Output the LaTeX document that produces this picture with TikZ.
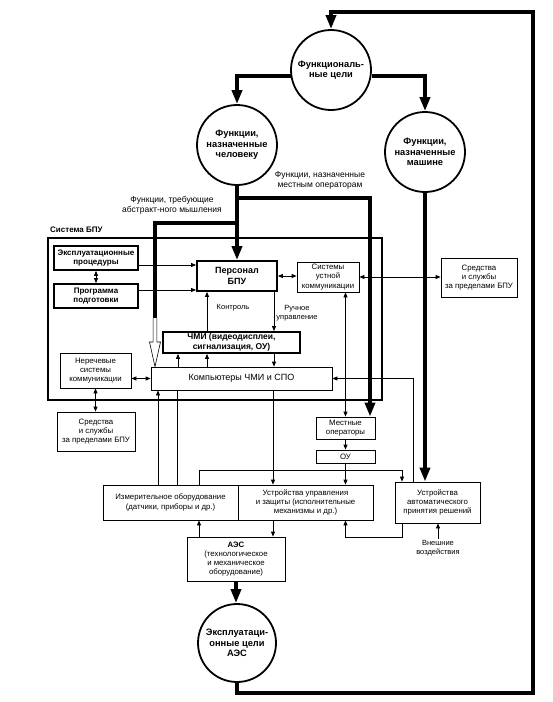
\documentclass[tikz,border=0pt]{standalone}
\usepackage{fontspec}
\setmainfont{Liberation Sans}
\usetikzlibrary{arrows.meta, calc}

\begin{document}
\begin{tikzpicture}[x=1pt, y=-1pt,
  goal/.style={circle, draw, line width=1.8pt, minimum size=80pt, inner sep=0pt,
    align=center, font=\fontsize{9.3}{10.5}\selectfont\bfseries},
  plainbox/.style={draw, line width=0.8pt, inner sep=0pt, align=center,
    font=\fontsize{7.8}{9.2}\selectfont},
  boldbox/.style={draw, line width=1.8pt, inner sep=0pt, align=center,
    font=\fontsize{8}{9.5}\selectfont\bfseries},
  note/.style={align=center, inner sep=1pt, font=\fontsize{7.5}{9}\selectfont},
  flowline/.style={line width=3.8pt},
  flow/.style={flowline, -{Triangle[length=14pt, width=10pt]}},
  sigline/.style={line width=0.8pt},
  sig/.style={sigline, -{Triangle[length=5pt, width=4pt]}},
  sigboth/.style={sigline, {Triangle[length=5pt, width=4pt]}-{Triangle[length=5pt, width=4pt]}}]

  % Page 552 by 702, y runs downwards.
  \useasboundingbox (0,0) rectangle (552,702);

  % Goals and the allocation of functions.
  \node[goal] (goals) at (331,70) {Функциональ-\\ные цели};
  \node[goal] (human) at (237,145) {Функции,\\назначенные\\человеку};
  \node[goal] (machine) at (425,152) {Функции,\\назначенные\\машине};
  \node[goal, minimum size=78pt] (opgoals) at (237,643) {Эксплуатаци-\\онные цели\\АЭС};

  \node[note, font=\fontsize{8.5}{10}\selectfont] (locallabel) at (320,180) {Функции, назначенные\\местным операторам};
  \node[note, font=\fontsize{8.5}{10}\selectfont] (abstrlabel) at (172,205) {Функции, требующие\\абстракт-ного мышления};

  % The control room frame.
  \node[draw, line width=2pt, minimum width=334pt, minimum height=162pt, inner sep=0pt] (bpu) at (215,319) {};
  \node[anchor=south west, inner sep=1pt, font=\fontsize{8}{9.5}\selectfont\bfseries] (bpulabel)
    at ([xshift=2pt, yshift=3pt]bpu.north west) {Система БПУ};

  \node[boldbox, minimum width=80pt, minimum height=30pt, font=\fontsize{9}{10.5}\selectfont\bfseries] (staff) at (237,276) {Персонал\\БПУ};
  \node[plainbox, minimum width=62pt, minimum height=30pt] (speech) at (328,277) {Системы\\устной\\коммуникации};
  \node[plainbox, minimum width=76pt, minimum height=39pt] (outr) at (479,277.5) {Средства\\и службы\\за пределами БПУ};
  \node[boldbox, minimum width=84pt, minimum height=24pt] (proc) at (96,258) {Эксплуатационные\\процедуры};
  \node[boldbox, minimum width=84pt, minimum height=24pt] (train) at (96,296) {Программа\\подготовки};
  \node[boldbox, minimum width=137pt, minimum height=21pt, font=\fontsize{8.5}{10}\selectfont\bfseries] (hmi) at (231.5,342.5) {ЧМИ (видеодисплеи,\\сигнализация, ОУ)};
  \node[plainbox, minimum width=181pt, minimum height=23pt, font=\fontsize{9}{11}\selectfont] (comp) at (241.5,378.5) {Компьютеры ЧМИ и СПО};
  \node[plainbox, minimum width=71pt, minimum height=35pt] (nonverbal) at (95.5,370.5) {Неречевые\\системы\\коммуникации};
  \node[plainbox, minimum width=78pt, minimum height=39pt] (outl) at (96,431.5) {Средства\\и службы\\за пределами БПУ};

  \node[note] (ctllabel) at (233,308) {Контроль};
  \node[note] (manlabel) at (297,313) {Ручное\\управление};

  % Plant side.
  \node[plainbox, minimum width=59pt, minimum height=22pt] (local) at (345.5,428) {Местные\\операторы};
  \node[plainbox, minimum width=59pt, minimum height=13pt] (ou) at (345.5,456.5) {ОУ};
  \node[plainbox, minimum width=135pt, minimum height=35pt] (meas) at (170.5,502.5) {Измерительное оборудование\\(датчики, приборы и др.)};
  \node[plainbox, minimum width=135pt, minimum height=35pt] (ctrl) at (305.5,502.5) {Устройства управления\\и защиты (исполнительные\\механизмы и др.)};
  \node[plainbox, minimum width=85pt, minimum height=41pt] (auto) at (437.5,502.5) {Устройства\\автоматического\\принятия решений};
  \node[plainbox, minimum width=98pt, minimum height=44pt] (npp) at (236,559) {\textbf{АЭС}\\(технологическое\\и механическое\\оборудование)};
  \node[note] (extlabel) at (438,548) {Внешние\\воздействия};

  % Thick flows of function.
  \coordinate (looptr) at (533,12);
  \coordinate (loopbl) at (237,693);
  \draw[flow] (opgoals.south) |- (looptr |- loopbl) -- (looptr) -| (goals.north);
  \draw[flow] (goals.188) -| (human.north);
  \draw[flow] (goals.-8) -| (machine.north);
  \draw[flow] (human.south) -- (staff.north);
  \coordinate (localbend) at (370,198);
  \draw[flow] (human.south |- localbend) -- (localbend) -- (localbend |- local.north);
  \coordinate (abstrbend) at (155,223);
  \coordinate (abstrend) at (155,318);
  \draw[flowline] (human.south |- abstrbend) -- (abstrbend) -- (abstrend);
  \draw[line width=0.6pt] ($(abstrend)+(-1.9,0)$) -- ++(0,24) -- ++(-3.6,0) -- (abstrend |- comp.north)
    -- ($(abstrend)+(5.5,24)$) -- ++(-3.6,0) -- ++(0,-24);
  \draw[flow] (machine.south) -- (machine.south |- auto.north);
  \draw[flow] (npp.south) -- (npp.south |- opgoals.north);

  % Inside the control room.
  \coordinate (procout) at ([yshift=-7pt]proc.east);
  \coordinate (trainout) at ([yshift=6pt]train.east);
  \draw[sig] (procout) -- (procout -| staff.west);
  \draw[sig] (trainout) -- (trainout -| staff.west);
  \draw[sigboth] (proc.south) -- (train.north);
  \draw[sigboth] (staff.east) -- (staff.east -| speech.west);
  \draw[sigboth] (speech.east) -- (speech.east -| outr.west);
  \coordinate (ctlx) at ([xshift=-30pt]staff.south);
  \coordinate (manx) at ([xshift=37pt]staff.south);
  \draw[sig] (ctlx |- hmi.north) -- (ctlx);
  \draw[sig] (manx) -- (manx |- hmi.north);
  \draw[sig] ([xshift=-63.5pt]comp.north) -- ([xshift=-63.5pt]comp.north |- hmi.south);
  \draw[sig] ([xshift=-34.5pt]comp.north) -- ([xshift=-34.5pt]comp.north |- hmi.south);
  \draw[sig] ([xshift=32.5pt]comp.north |- hmi.south) -- ([xshift=32.5pt]comp.north);
  \draw[sigboth] (comp.west -| nonverbal.east) -- (comp.west);
  \draw[sigboth] (nonverbal.south) -- (nonverbal.south |- outl.north);
  \draw[sigboth] (local.north |- speech.south) -- (local.north);

  % Signals to and from the plant.
  \coordinate (autotap) at ([xshift=-24.5pt]auto.north);
  \draw[sig] (autotap) |- (comp.east);
  \draw[sig] ([xshift=31.5pt]comp.south) -- ([xshift=31.5pt]comp.south |- ctrl.north);
  \draw[sig] (local.south) -- (ou.north);
  \draw[sig] (ou.south) -- (ou.south |- ctrl.north);
  \draw[sig] ([xshift=28.5pt]meas.north) -- ++(0,-14) -| ([xshift=-35.5pt]auto.north);
  \draw[sig] ([xshift=-12.5pt]meas.north) -- ([xshift=-12.5pt]meas.north |- comp.south);
  \draw[sigline] ([xshift=6.5pt]meas.north) -- ([xshift=6.5pt]meas.north |- comp.south);
  \draw[sig] ([xshift=-37pt]npp.north) -- ([xshift=-37pt]npp.north |- meas.south);
  \draw[sig] ([xshift=37pt]npp.north |- ctrl.south) -- ([xshift=37pt]npp.north);
  \draw[sig] ([xshift=-35.5pt]auto.south) -- ++(0,14) -| (ou.south |- ctrl.south);
  \draw[sig] (extlabel.north) -- (extlabel.north |- auto.south);

\end{tikzpicture}
\end{document}
